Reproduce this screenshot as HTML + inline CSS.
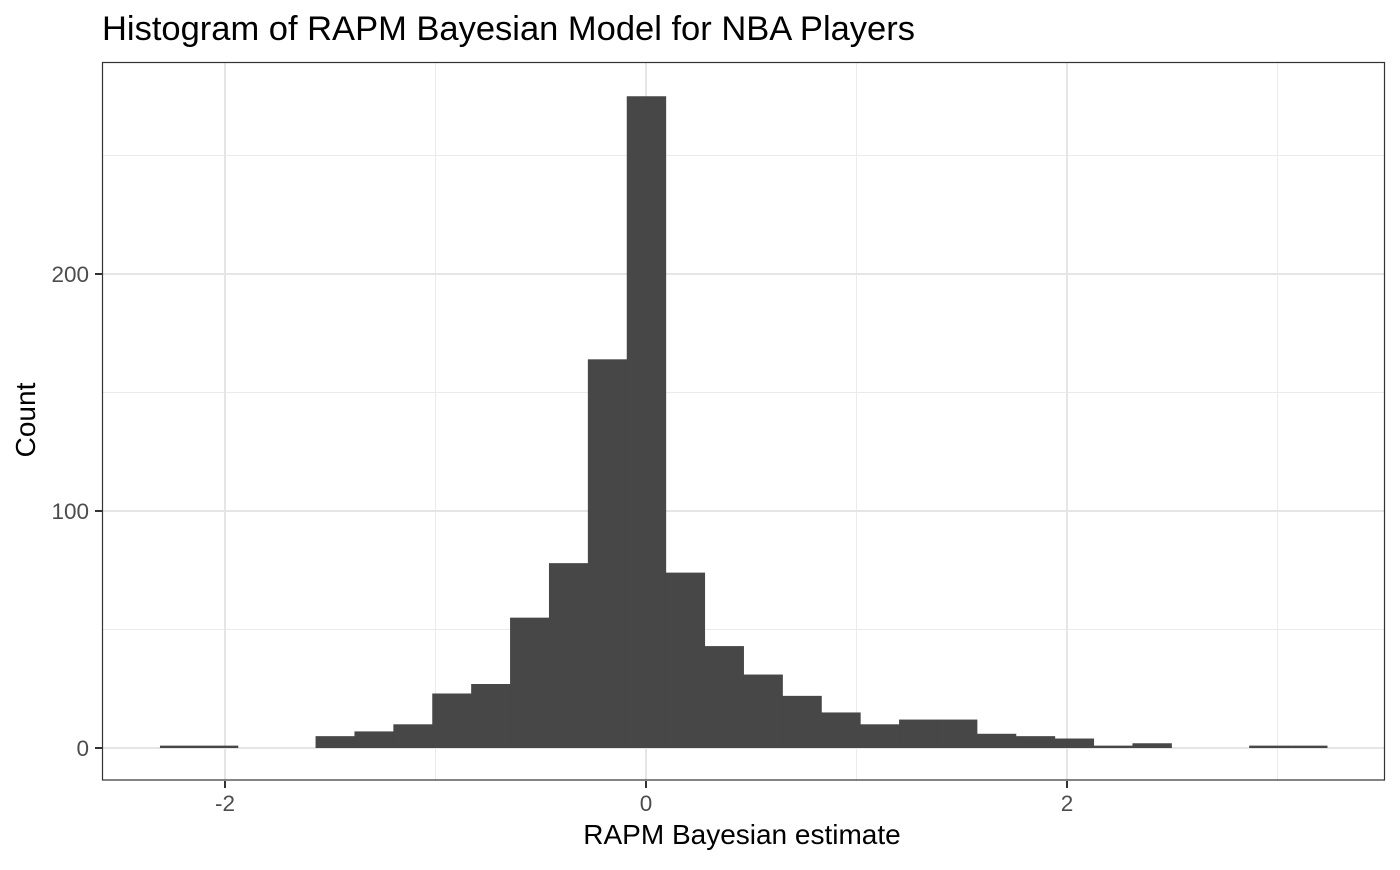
<!DOCTYPE html>
<html><head><meta charset="utf-8"><style>
body{margin:0;background:#fff;font-family:"Liberation Sans",Arial,sans-serif}
</style></head><body>
<svg id="c" width="1400" height="865" xmlns="http://www.w3.org/2000/svg">
<text x="102" y="40" font-size="34.5" fill="#000">Histogram of RAPM Bayesian Model for NBA Players</text>
<g id="grid"></g><g id="bars"></g><g id="axes"></g>
<rect x="102.5" y="62.5" width="1282" height="717.5" fill="none" stroke="#333" stroke-width="1.2"/>
<text x="742" y="844" font-size="28" text-anchor="middle">RAPM Bayesian estimate</text>
<text transform="translate(35,420) rotate(-90)" font-size="28" text-anchor="middle">Count</text>
</svg>
<script>
const binStart = -2.309;
const binWidth = 0.1848;
const counts = [1,1,0,0,5,7,10,23,27,55,78,164,275,74,43,31,22,15,10,12,12,6,5,4,1,2,0,0,1,1];
const xTicks = [-2,0,2];
const xMinor = [-1,1,3];
const yTicks = [0,100,200];
const yMinor = [50,150,250];
const X = v => 646 + 210.5*v;
const Y = c => 748 - 2.37*c;
const NS="http://www.w3.org/2000/svg";
function mk(p,t,a){const e=document.createElementNS(NS,t);for(const k in a)e.setAttribute(k,a[k]);p.appendChild(e);return e;}
const g=document.getElementById('grid'),b=document.getElementById('bars'),ax=document.getElementById('axes');
xMinor.forEach(v=>{const l=mk(g,'line',{x1:X(v),x2:X(v),y1:62,y2:780,stroke:'#ebebeb','stroke-width':1});

});
yMinor.forEach(v=>{const l=mk(g,'line',{x1:102,x2:1385,y1:Y(v),y2:Y(v),stroke:'#ebebeb','stroke-width':1});

});
xTicks.forEach(v=>{const l=mk(g,'line',{x1:X(v),x2:X(v),y1:62,y2:780,stroke:'#e5e5e5','stroke-width':2});


const t=mk(ax,'text',{x:X(v),y:811,'font-size':22.5,fill:'#4d4d4d','text-anchor':'middle'});t.textContent=v;


mk(ax,'line',{x1:X(v),x2:X(v),y1:781,y2:788,stroke:'#333','stroke-width':2});});
yTicks.forEach(v=>{const l=mk(g,'line',{x1:102,x2:1385,y1:Y(v),y2:Y(v),stroke:'#e5e5e5','stroke-width':2});


const t=mk(ax,'text',{x:89,y:Y(v)+8,'font-size':22.5,fill:'#4d4d4d','text-anchor':'end'});t.textContent=v;


mk(ax,'line',{x1:95,x2:102,y1:Y(v),y2:Y(v),stroke:'#333','stroke-width':2});});
counts.forEach((c,i)=>{if(!c)return;const x0=X(binStart+i*binWidth),x1=X(binStart+(i+1)*binWidth);
const r=mk(b,'rect',{x:x0,y:Y(c),width:x1-x0+0.5,height:Y(0)-Y(c),fill:'#474747'});

});
</script>
</body></html>
